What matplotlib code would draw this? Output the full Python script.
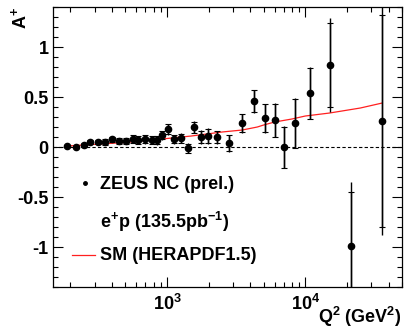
import numpy as np
import matplotlib
matplotlib.use("Agg")
import matplotlib.pyplot as plt
from matplotlib.ticker import FixedLocator, FixedFormatter, MultipleLocator, NullFormatter

plt.rcParams['font.family'] = ['Liberation Sans', 'DejaVu Sans']
plt.rcParams['font.weight'] = 'bold'
plt.rcParams['mathtext.fontset'] = 'custom'
plt.rcParams['mathtext.rm'] = 'Liberation Sans:bold'
plt.rcParams['mathtext.bf'] = 'Liberation Sans:bold'
plt.rcParams['mathtext.it'] = 'Liberation Sans:bold'

# ZEUS NC e+p asymmetry data
q2 = [191, 219, 252, 280, 318, 357, 398, 448, 502, 570, 623, 695, 776, 853, 926,
      1017, 1116, 1259, 1423, 1580, 1763, 1980, 2285, 2800, 3490, 4233, 5078,
      6060, 7030, 8380, 10790, 15200, 21380, 35900]
asym = [0.01, 0.0, 0.02, 0.05, 0.05, 0.05, 0.08, 0.06, 0.06, 0.08, 0.07, 0.08,
        0.07, 0.07, 0.12, 0.18, 0.08, 0.09, -0.01, 0.20, 0.10, 0.11, 0.10, 0.04,
        0.24, 0.46, 0.29, 0.27, 0.0, 0.24, 0.54, 0.82, -0.99, 0.26]
err_tot = [0.012, 0.012, 0.02, 0.022, 0.025, 0.03, 0.028, 0.032, 0.032, 0.04,
           0.04, 0.045, 0.04, 0.045, 0.045, 0.055, 0.045, 0.05, 0.05, 0.06,
           0.07, 0.08, 0.065, 0.085, 0.095, 0.115, 0.145, 0.17, 0.21, 0.25,
           0.26, 0.47, 0.64, 1.14]
err_stat = [0.01, 0.01, 0.018, 0.02, 0.022, 0.027, 0.025, 0.029, 0.029, 0.036,
            0.036, 0.04, 0.036, 0.04, 0.04, 0.05, 0.04, 0.045, 0.045, 0.055,
            0.064, 0.074, 0.06, 0.078, 0.088, 0.11, 0.14, 0.165, 0.205, 0.245,
            0.255, 0.42, 0.54, 1.06]

# SM prediction (HERAPDF1.5)
sm_q2 = [190, 300, 500, 770, 1000, 1500, 2500, 3500, 4500, 5000, 6000, 8000,
         10000, 15000, 25000, 36000]
sm_a = [0.01, 0.027, 0.045, 0.07, 0.085, 0.11, 0.15, 0.17, 0.2, 0.22, 0.25,
        0.28, 0.31, 0.34, 0.39, 0.44]

fig = plt.figure(figsize=(4.04, 3.33), dpi=100)
ax = fig.add_axes([0.131, 0.138, 0.864, 0.841])

ax.axhline(0, color='black', lw=0.8, ls=(0, (3, 2)))
ax.plot(sm_q2, sm_a, color='#ff2020', lw=0.9)

ax.errorbar(q2, asym, yerr=err_tot, fmt='none', ecolor='black', elinewidth=1.0, capsize=0)
ax.errorbar(q2, asym, yerr=err_stat, fmt='o', color='black', ms=4.5,
            ecolor='black', elinewidth=1.0, capsize=2, capthick=0.8)

ax.set_xscale('log')
ax.set_xlim(150, 50000)
ax.set_ylim(-1.4, 1.4)

ax.xaxis.set_major_locator(FixedLocator([1000, 10000]))
ax.xaxis.set_major_formatter(FixedFormatter(['10$^{3}$', '10$^{4}$']))
minors = [m * 10 ** e for e in (2, 3, 4) for m in range(2, 10)]
ax.xaxis.set_minor_locator(FixedLocator(minors))
ax.xaxis.set_minor_formatter(NullFormatter())

ax.yaxis.set_major_locator(MultipleLocator(0.5))
ax.yaxis.set_minor_locator(MultipleLocator(0.1))
ax.set_yticks([-1, -0.5, 0, 0.5, 1])
ax.set_yticklabels(['-1', '-0.5', '0', '0.5', '1'])

ax.tick_params(which='both', direction='in', top=True, right=True, labelsize=13)
ax.tick_params(which='major', length=7, width=0.8)
ax.tick_params(which='minor', length=3.5, width=0.8)
ax.tick_params(axis='x', pad=5)
ax.tick_params(axis='y', pad=3)
for s in ax.spines.values():
    s.set_linewidth(0.9)

fig.text(0.05, 0.978, 'A$^{+}$', rotation=90, ha='center', va='top', fontsize=13)
fig.text(0.993, 0.012, 'Q$^{2}$ (GeV$^{2}$)', ha='right', va='bottom', fontsize=13)

# legend
ax.plot([10 ** 2.405], [-0.36], 'o', color='black', ms=2.5)
ax.text(0.135, 0.365, 'ZEUS NC (prel.)', transform=ax.transAxes, fontsize=13, va='center')
ax.text(0.135, 0.232, 'e$^{+}$p (135.5pb$^{-1}$)', transform=ax.transAxes, fontsize=13, va='center')
ax.plot([0.055, 0.12], [0.113, 0.113], color='#ff2020', lw=0.9, transform=ax.transAxes)
ax.text(0.135, 0.113, 'SM (HERAPDF1.5)', transform=ax.transAxes, fontsize=13, va='center')

fig.savefig('out.png', dpi=100)
